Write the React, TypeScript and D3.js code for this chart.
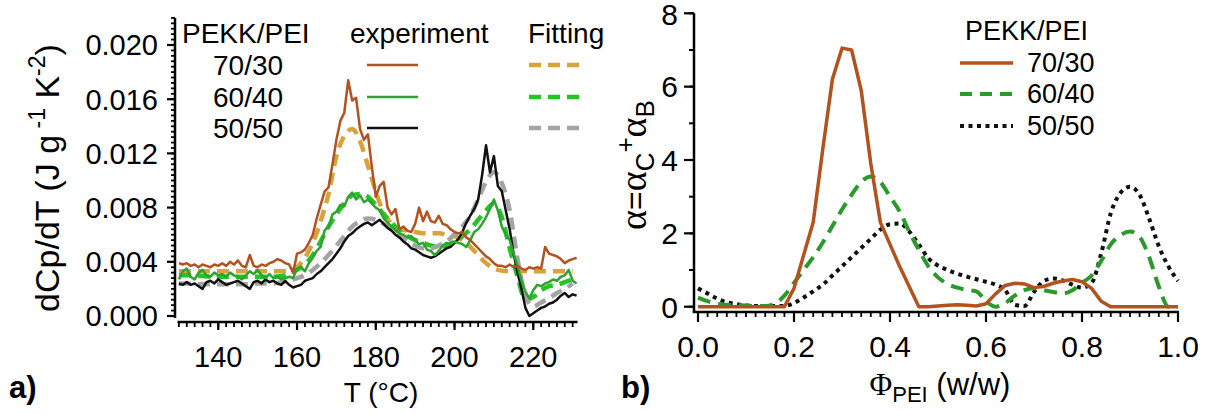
import React from "react";
import * as d3 from "d3";

// ---------- Panel a) data: dCp/dT (x 1e-3 J g^-1 K^-2) ----------
const T_START = 130; // experiment sampled every 1 °C, fits every 2 °C
const T_EXP_STEP = 1;
const T_FIT_STEP = 2;

const exp7030 = [
  3.9, 3.8, 3.9, 3.7, 3.8, 3.6, 3.8, 3.7, 3.6, 3.8,
  3.7, 3.9, 3.7, 4.0, 3.8, 4.1, 3.7, 3.6, 4.5, 3.7,
  3.6, 3.8, 3.7, 3.9, 4.0, 4.2, 4.1, 3.9, 3.8, 3.2,
  4.6, 4.7, 4.9, 5.4, 6.0, 7.2, 8.2, 9.2, 9.5, 11.2,
  13.0, 14.4, 15.0, 17.4, 15.9, 16.1, 13.8, 13.0, 13.4, 11.0,
  8.8, 9.6, 9.9, 8.0, 7.5, 7.9, 6.4, 6.6, 6.3, 6.2,
  6.8, 8.0, 7.0, 7.7, 7.0, 6.9, 7.4, 6.8, 6.7, 6.4,
  6.2, 6.1, 6.2, 5.8, 5.6, 5.3, 5.0, 4.7, 4.4, 4.2,
  3.9, 3.7, 3.7, 3.6, 3.8, 3.6, 3.7, 3.5, 3.4, 3.6,
  3.5, 3.6, 3.5, 5.1, 4.6, 4.5, 4.4, 4.2, 3.9, 4.1,
  4.2, 4.3,
];
const exp6040 = [
  2.7, 3.3, 3.5, 2.9, 2.7, 3.2, 3.4, 3.0, 2.9, 3.2,
  3.0, 3.1, 2.9, 3.2, 3.0, 2.9, 2.7, 3.0, 3.3, 3.1,
  3.4, 3.0, 2.8, 3.1, 2.8, 2.9, 2.7, 2.8, 2.9, 2.8,
  3.5, 3.6, 3.3, 3.9, 4.3, 4.8, 5.1, 6.3, 6.6, 7.5,
  7.7, 8.2, 8.1, 8.8, 9.1, 8.6, 8.9, 8.4, 8.6, 8.3,
  8.0, 7.8, 7.2, 6.9, 6.6, 6.3, 6.1, 6.0, 5.8, 5.9,
  5.6, 5.3, 5.4, 4.9, 4.8, 4.5, 4.8, 5.2, 5.4, 5.3,
  5.5, 5.4, 5.3, 5.1, 5.6, 6.2, 6.4, 6.8, 7.3, 7.9,
  8.6, 7.8, 6.6, 6.0, 5.6, 4.6, 3.7, 2.6, 1.8, 1.3,
  1.9, 2.3, 2.2, 2.4, 2.5, 2.7, 2.6, 2.9, 3.0, 3.4,
  2.6, 2.4,
];
const exp5050 = [
  2.4, 2.3, 2.5, 2.3, 2.4, 2.2, 2.0, 2.5, 2.6, 2.4,
  2.7, 2.5, 2.3, 2.4, 2.5, 2.6, 2.4, 2.2, 2.0, 2.5,
  2.6, 2.4, 2.7, 2.5, 2.6, 2.4, 2.3, 2.6, 2.3, 2.1,
  2.2, 2.3, 2.6, 2.7, 2.8, 3.1, 3.3, 3.6, 3.9, 4.2,
  4.6, 5.0, 5.5, 5.9, 6.1, 6.4, 6.6, 6.8, 6.9, 6.7,
  6.9, 7.1, 6.8, 6.5, 6.3, 6.0, 5.8, 5.5, 5.3, 5.0,
  4.9, 4.7, 4.5, 4.4, 4.3, 4.4, 4.6, 4.8, 5.0, 5.1,
  5.4, 5.7, 6.2, 6.9, 7.4, 7.9, 8.6, 10.4, 12.6, 10.6,
  11.8, 9.6, 9.2, 7.8, 6.4, 4.6, 3.2, 2.0, 0.6, 0.0,
  0.2, 0.4, 0.6, 0.7, 0.9, 1.0, 1.2, 1.5, 1.7, 1.4,
  1.6, 1.5,
];
const fit7030 = [
  3.3, 3.3, 3.3, 3.3, 3.3, 3.3, 3.3, 3.3, 3.3, 3.3, 3.3, 3.3, 3.3, 3.3, 3.35,
  3.6, 4.3, 5.4, 7.0, 9.0, 11.8, 13.3, 13.8, 12.9, 11.1,
  9.2, 7.6, 6.8, 6.4, 6.3, 6.2, 6.1, 6.1, 6.1, 6.0,
  5.9, 5.6, 5.1, 4.5, 3.9, 3.5, 3.35, 3.3, 3.3, 3.3,
  3.3, 3.3, 3.3, 3.3, 3.3, 3.3,
];
const fit6040 = [
  3.0, 3.0, 3.0, 2.95, 2.9, 2.9, 2.9, 2.9, 2.9, 2.9, 2.9, 2.9, 2.9, 2.95, 3.1,
  3.4, 3.8, 4.5, 5.5, 6.6, 7.5, 8.3, 8.9, 9.0, 8.8,
  8.2, 7.5, 6.9, 6.3, 5.9, 5.6, 5.4, 5.2, 5.1, 5.2,
  5.5, 5.9, 6.4, 7.1, 7.8, 8.3, 7.3, 5.0, 2.9, 1.2,
  1.4, 1.9, 2.2, 2.3, 2.5, 2.7,
];
const fit5050 = [
  2.4, 2.4, 2.35, 2.35, 2.35, 2.35, 2.35, 2.35, 2.35, 2.35, 2.4, 2.4, 2.4, 2.5, 2.6,
  2.8, 3.0, 3.4, 3.9, 4.5, 5.2, 5.9, 6.6, 7.0, 7.2,
  7.1, 6.8, 6.4, 5.9, 5.5, 5.2, 5.0, 5.0, 5.2, 5.5,
  6.0, 6.6, 7.4, 8.6, 9.9, 10.6, 9.8, 7.8, 4.2, 1.5,
  0.7, 1.0, 1.3, 1.7, 2.0, 2.4,
];
const yTicksA = [0, 0.004, 0.008, 0.012, 0.016, 0.02];
const xTicksA = [140, 160, 180, 200, 220];

// ---------- Panel b) data: alpha vs PEI fraction ----------
const PHI_STEP = 0.02;
const alpha7030 = [
  0, 0, 0, 0, 0, 0, 0, 0, 0, 0,
  0.5, 1.4, 2.3, 4.3, 6.2, 7.05, 7.0, 5.9, 3.9, 2.3,
  1.7, 1.1, 0.55, 0, 0, 0.02, 0.04, 0.05, 0.04, 0.02,
  0.08, 0.35, 0.58, 0.64, 0.62, 0.52, 0.55, 0.64, 0.7, 0.74,
  0.68, 0.5, 0.15, 0, 0, 0, 0, 0, 0, 0,
  0,
];
const alpha6040 = [
  0.25, 0.15, 0.08, 0.05, 0.04, 0.03, 0.02, 0.02, 0.08, 0.3,
  0.65, 1.0, 1.35, 1.75, 2.2, 2.65, 3.05, 3.4, 3.55, 3.4,
  3.0, 2.6, 2.05, 1.55, 1.1, 0.8, 0.62, 0.52, 0.46, 0.42,
  0.15, 0.0, 0.1, 0.3, 0.45, 0.5, 0.45, 0.4, 0.36, 0.45,
  0.65, 0.85, 1.25, 1.7, 1.95, 2.05, 1.9, 1.35, 0.55, 0.0,
  0.0,
];
const alpha5050 = [
  0.5, 0.36, 0.22, 0.12, 0.07, 0.03, 0.02, 0.02, 0.02, 0.02,
  0.1, 0.25, 0.42, 0.6, 0.85, 1.1, 1.35, 1.6, 1.85, 2.1,
  2.25, 2.27, 2.05, 1.7, 1.32, 1.12, 1.0, 0.9, 0.82, 0.75,
  0.68, 0.6, 0.45, 0.05, 0.02, 0.4, 0.7, 0.77, 0.72, 0.6,
  0.52, 0.65, 1.45, 2.55, 3.1, 3.27, 3.05, 2.4, 1.65, 1.1,
  0.7,
];
const yTicksB = [0, 2, 4, 6, 8];
const xTicksB = [0, 0.2, 0.4, 0.6, 0.8, 1.0];
const blendLabels = ["70/30", "60/40", "50/50"];

const FONT = "'Liberation Sans', Arial, Helvetica, sans-serif";
const SERIF = "'Liberation Serif', 'Times New Roman', serif";

const C = {
  brown: "#b3521e",
  orange: "#d9a33c",
  green: "#2fa32f",
  greenFit: "#25c425",
  black: "#111111",
  gray: "#a4a4a4",
  greenB: "#2a9a2a",
};

export default function App() {
  // scales panel a
  const xA = d3.scaleLinear().domain([130, 231]).range([178.9, 576.6]);
  const yA = d3.scaleLinear().domain([0, 0.022]).range([316, 17.9]);
  // scales panel b
  const xB = d3.scaleLinear().domain([0, 1]).range([698, 1178]);
  const yB = d3.scaleLinear().domain([0, 8]).range([306.7, 13.3]);

  const expLine = d3
    .line<number>()
    .x((_, i) => xA(T_START + i * T_EXP_STEP))
    .y((v) => yA(v / 1000));
  const fitLine = d3
    .line<number>()
    .x((_, i) => xA(T_START + i * T_FIT_STEP))
    .y((v) => yA(v / 1000))
    .curve(d3.curveMonotoneX);
  const bLineLin = d3
    .line<number>()
    .x((_, i) => xB(i * PHI_STEP))
    .y((v) => yB(v));
  const bLine = d3
    .line<number>()
    .x((_, i) => xB(i * PHI_STEP))
    .y((v) => yB(v))
    .curve(d3.curveMonotoneX);

  const minorYA = d3.range(0, 0.02201, 0.0004);
  const minorXA = d3.range(130, 231.01, 2);
  const minorYB = d3.range(0, 8.01, 1);
  const minorXB = d3.range(0, 1.001, 0.02);

  const axisW = 2.5;
  const legendRowsA = [
    { label: blendLabels[0], exp: C.brown, fit: C.orange, y: 65 },
    { label: blendLabels[1], exp: C.green, fit: C.greenFit, y: 97 },
    { label: blendLabels[2], exp: C.black, fit: C.gray, y: 128 },
  ];

  return (
    <svg
      width={1210}
      height={414}
      style={{ position: "absolute", left: 0, top: 0, background: "#fff" }}
      fontFamily={FONT}
    >
      <rect width={1210} height={414} fill="#fff" />
      {/* ================= Panel a ================= */}
      <g>
        {/* fits (dashed) */}
        <path d={fitLine(fit7030) || ""} fill="none" stroke={C.orange} strokeWidth={4.5} strokeDasharray="12 7" />
        <path d={fitLine(fit6040) || ""} fill="none" stroke={C.greenFit} strokeWidth={4.5} strokeDasharray="12 7" />
        <path d={fitLine(fit5050) || ""} fill="none" stroke={C.gray} strokeWidth={4.5} strokeDasharray="12 7" />
        {/* experiments */}
        <path d={expLine(exp5050) || ""} fill="none" stroke={C.black} strokeWidth={2.5} strokeLinejoin="round" />
        <path d={expLine(exp6040) || ""} fill="none" stroke={C.green} strokeWidth={2.5} strokeLinejoin="round" />
        <path d={expLine(exp7030) || ""} fill="none" stroke={C.brown} strokeWidth={2.5} strokeLinejoin="round" />

        {/* y axis */}
        <line x1={175} x2={175} y1={yA(0.022)} y2={318} stroke="#000" strokeWidth={axisW} />
        {minorYA.map((v, i) => (
          <line key={"mya" + i} x1={175} x2={171} y1={yA(v)} y2={yA(v)} stroke="#000" strokeWidth={1.8} />
        ))}
        {yTicksA.map((v) => (
          <g key={"ya" + v}>
            <line x1={175} x2={167} y1={yA(v)} y2={yA(v)} stroke="#000" strokeWidth={2.2} />
            <text x={158} y={yA(v)} dy="0.36em" textAnchor="end" fontSize={29}>
              {v.toFixed(3)}
            </text>
          </g>
        ))}
        {/* x axis */}
        <line x1={177.5} x2={577.5} y1={322} y2={322} stroke="#000" strokeWidth={axisW} />
        {minorXA.map((v, i) => (
          <line key={"mxa" + i} x1={xA(v)} x2={xA(v)} y1={322} y2={327} stroke="#000" strokeWidth={1.8} />
        ))}
        {xTicksA.map((v) => (
          <g key={"xa" + v}>
            <line x1={xA(v)} x2={xA(v)} y1={322} y2={330} stroke="#000" strokeWidth={2.2} />
            <text x={xA(v)} y={367} textAnchor="middle" fontSize={29}>
              {v}
            </text>
          </g>
        ))}
        <text x={381} y={402} textAnchor="middle" fontSize={28}>
          T (°C)
        </text>
        <text transform="translate(59,178) rotate(-90)" textAnchor="middle" fontSize={34}>
          <tspan>dCp/dT (J g</tspan>
          <tspan dy={-14} fontSize={23}> -1</tspan>
          <tspan dy={14}> K</tspan>
          <tspan dy={-14} fontSize={23}>-2</tspan>
          <tspan dy={14}>)</tspan>
        </text>

        {/* legend a */}
        <text x={182} y={43} fontSize={28}>PEKK/PEI</text>
        <text x={350} y={43} fontSize={28}>experiment</text>
        <text x={528} y={43} fontSize={28}>Fitting</text>
        {legendRowsA.map((r) => (
          <g key={r.label}>
            <text x={213} y={r.y + 10} fontSize={28}>{r.label}</text>
            <line x1={367} x2={418} y1={r.y} y2={r.y} stroke={r.exp} strokeWidth={2.5} />
            <line x1={529} x2={580} y1={r.y} y2={r.y} stroke={r.fit} strokeWidth={4.5} strokeDasharray="12 7" />
          </g>
        ))}
        <text x={9} y={398} fontSize={31} fontWeight="bold">a)</text>
      </g>

      {/* ================= Panel b ================= */}
      <g>
        <path d={bLine(alpha5050) || ""} fill="none" stroke={C.black} strokeWidth={4} strokeDasharray="4 4.5" />
        <path d={bLine(alpha6040) || ""} fill="none" stroke={C.greenB} strokeWidth={4} strokeDasharray="13 8" />
        <path d={bLineLin(alpha7030) || ""} fill="none" stroke={C.brown} strokeWidth={3.5} strokeLinejoin="round" />

        {/* y axis */}
        <line x1={694} x2={694} y1={yB(8)} y2={313} stroke="#000" strokeWidth={axisW} />
        {minorYB.map((v, i) => (
          <line key={"myb" + i} x1={694} x2={689} y1={yB(v)} y2={yB(v)} stroke="#000" strokeWidth={2} />
        ))}
        {yTicksB.map((v) => (
          <g key={"yb" + v}>
            <line x1={694} x2={684} y1={yB(v)} y2={yB(v)} stroke="#000" strokeWidth={2.2} />
            <text x={678} y={yB(v)} dy={v === 8 ? "0.4em" : "0.36em"} textAnchor="end" fontSize={30}>
              {v}
            </text>
          </g>
        ))}
        {/* x axis */}
        <line x1={692.8} x2={1179} y1={312} y2={312} stroke="#000" strokeWidth={axisW} />
        {minorXB.map((v, i) => (
          <line key={"mxb" + i} x1={xB(v)} x2={xB(v)} y1={312} y2={317} stroke="#000" strokeWidth={1.8} />
        ))}
        {xTicksB.map((v) => (
          <g key={"xb" + v}>
            <line x1={xB(v)} x2={xB(v)} y1={312} y2={322} stroke="#000" strokeWidth={2.2} />
            <text x={xB(v)} y={357} textAnchor="middle" fontSize={30}>
              {v.toFixed(1)}
            </text>
          </g>
        ))}
        <text x={940} y={395} textAnchor="middle" fontSize={31}>
          <tspan fontFamily={SERIF}>Φ</tspan>
          <tspan dy={7} fontSize={22}>PEI</tspan>
          <tspan dy={-7}> (w/w)</tspan>
        </text>
        <text transform="translate(646,165) rotate(-90)" textAnchor="middle" fontSize={38}>
          <tspan fontFamily={SERIF}>α</tspan>
          <tspan fontSize={32}>=</tspan>
          <tspan fontFamily={SERIF}>α</tspan>
          <tspan dy={8} fontSize={26}>C</tspan>
          <tspan dy={-20} fontSize={26}>+</tspan>
          <tspan dy={12} fontFamily={SERIF}>α</tspan>
          <tspan dy={8} fontSize={26}>B</tspan>
        </text>

        {/* legend b */}
        <text x={965} y={40} fontSize={27}>PEKK/PEI</text>
        <line x1={960} x2={1013} y1={63} y2={63} stroke={C.brown} strokeWidth={3.5} />
        <line x1={960} x2={1013} y1={94} y2={94} stroke={C.greenB} strokeWidth={4} strokeDasharray="12 8" />
        <line x1={960} x2={1013} y1={126} y2={126} stroke={C.black} strokeWidth={4} strokeDasharray="4 4.5" />
        <text x={1027} y={72} fontSize={27}>{blendLabels[0]}</text>
        <text x={1027} y={103} fontSize={27}>{blendLabels[1]}</text>
        <text x={1027} y={135} fontSize={27}>{blendLabels[2]}</text>
        <text x={621} y={398} fontSize={31} fontWeight="bold">b)</text>
      </g>
    </svg>
  );
}
